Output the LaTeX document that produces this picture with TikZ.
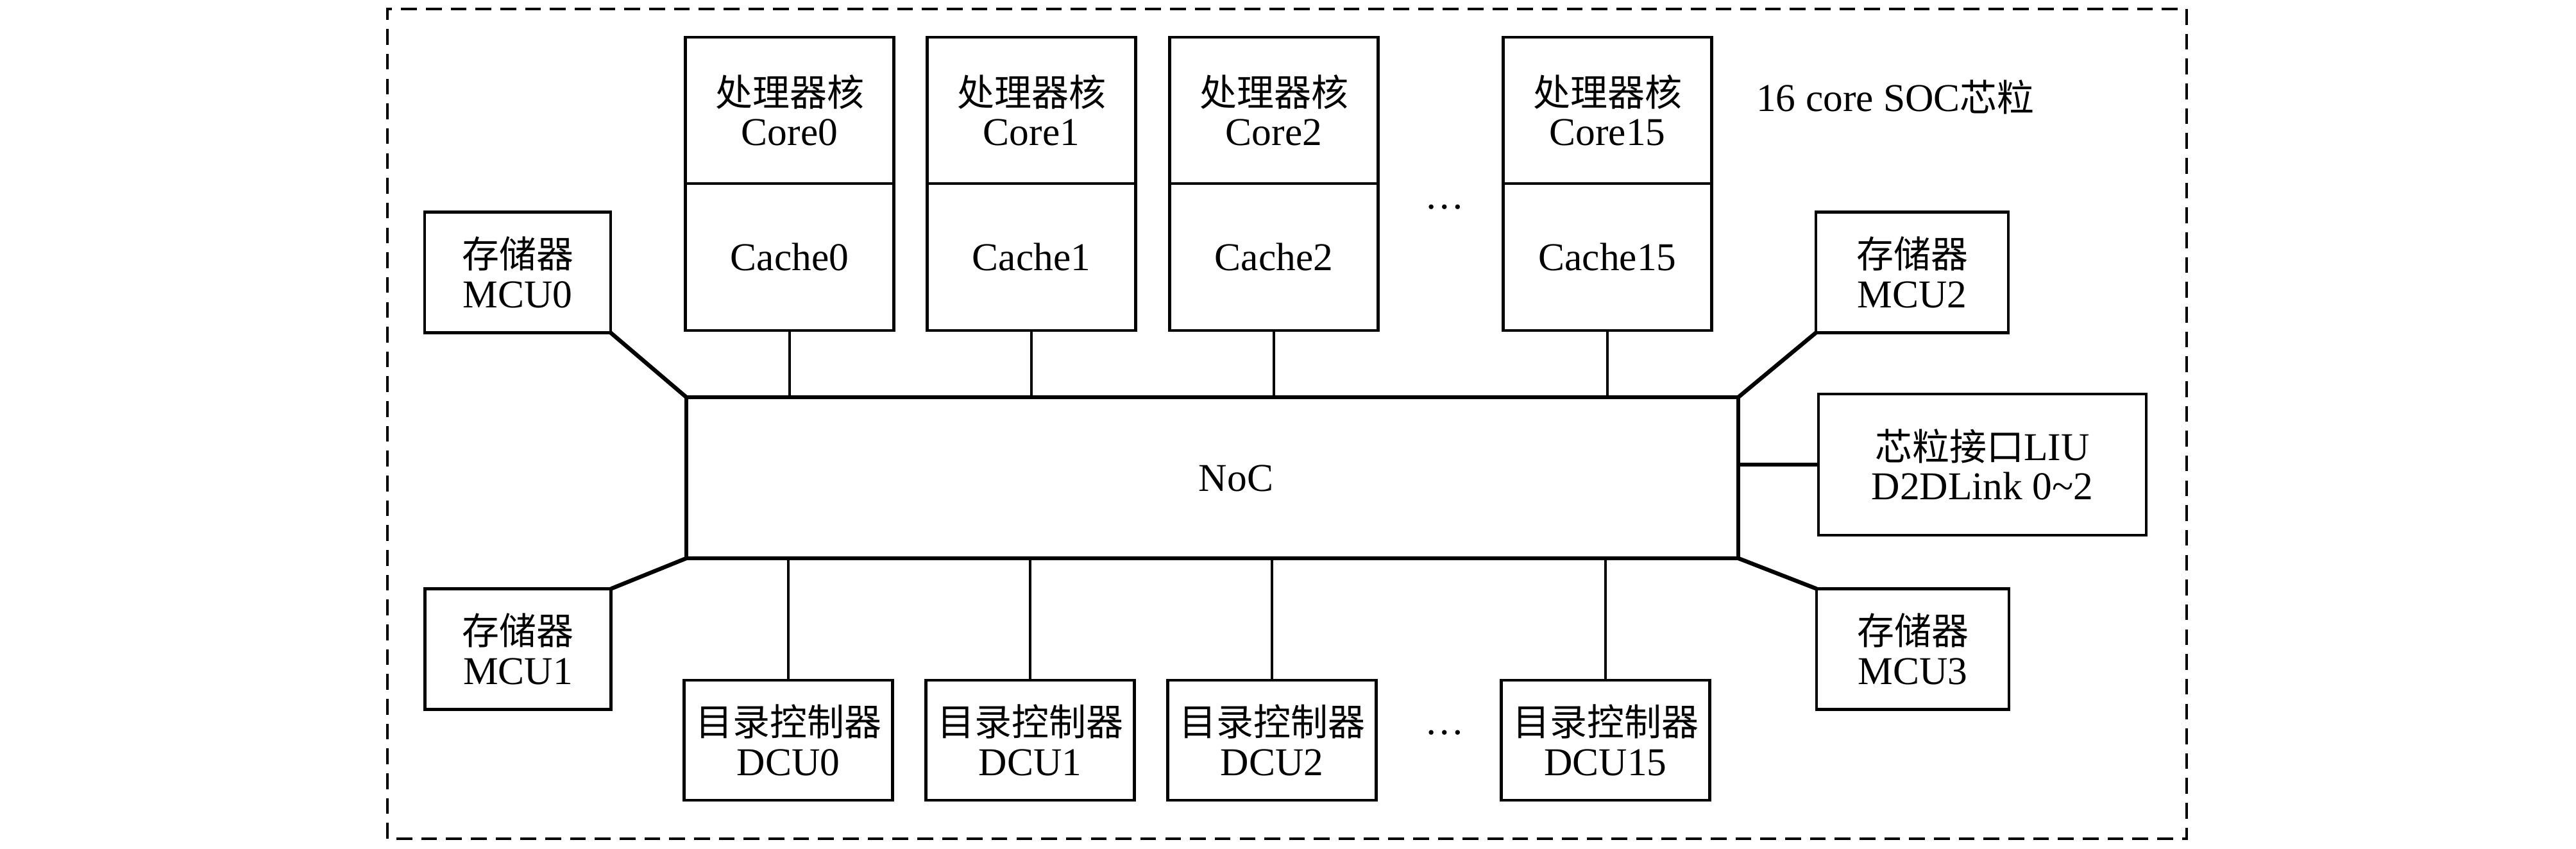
\documentclass[tikz,border=0pt]{standalone}
\usepackage{fontspec}
\setmainfont[Scale=1.06]{Liberation Serif}
\newfontfamily\cjk{Noto Sans CJK SC}
\newcommand{\zh}[1]{{\cjk #1}}
\usetikzlibrary{positioning}

\begin{document}
\begin{tikzpicture}[
    font=\fontsize{16.5}{17.5}\selectfont,
    box/.style={draw, line width=1.3pt, align=center, inner sep=0pt, outer sep=0pt, minimum width=3.25cm},
    mcu/.style={box, minimum width=2.9cm, minimum height=1.88cm},
    link/.style={line width=1.2pt},
    slant/.style={line width=1.8pt},
    chip/.style={line width=1.1pt, dash pattern=on 7pt off 4pt}
]
    \useasboundingbox (0,0) rectangle (40.16,13.23);

    % Cadre du SOC
    \draw[chip] (6.04,0.16) rectangle (34.09,13.09);
    \node[anchor=west] (title) at (27.25,11.72) {16 core SOC\zh{芯粒}};

    % Coeurs + caches
    \node[box, minimum height=2.28cm] (core0) at (12.31,11.51) {\zh{处理器核}\\Core0};
    \node[box, minimum height=2.29cm, below=0pt of core0] (cache0) {Cache0};
    \node[box, minimum height=2.28cm] (core1) at (16.08,11.51) {\zh{处理器核}\\Core1};
    \node[box, minimum height=2.29cm, below=0pt of core1] (cache1) {Cache1};
    \node[box, minimum height=2.28cm] (core2) at (19.86,11.51) {\zh{处理器核}\\Core2};
    \node[box, minimum height=2.29cm, below=0pt of core2] (cache2) {Cache2};
    \node[box, minimum height=2.28cm] (core15) at (25.06,11.51) {\zh{处理器核}\\Core15};
    \node[box, minimum height=2.29cm, below=0pt of core15] (cache15) {Cache15};
    \node (dotsup) at (22.52,10.0) {\dots};

    % NoC
    \node[box, line width=1.8pt, minimum width=16.4cm, minimum height=2.51cm] (noc) at (18.90,5.785) {};
    \node (noclabel) at (19.27,5.78) {NoC};

    % Memoires
    \node[mcu] (mcu0) at (8.07,8.985) {\zh{存储器}\\MCU0};
    \node[mcu] (mcu1) at (8.075,3.115) {\zh{存储器}\\MCU1};
    \node[mcu, minimum width=3.0cm] (mcu2) at (29.81,8.985) {\zh{存储器}\\MCU2};
    \node[mcu, minimum width=3.0cm] (mcu3) at (29.82,3.115) {\zh{存储器}\\MCU3};

    % Interface chiplet
    \node[box, minimum width=5.11cm, minimum height=2.2cm] (liu) at (30.905,5.99) {\zh{芯粒接口}LIU\\D2DLink 0\textasciitilde 2};

    % Controleurs de repertoire
    \node[box, minimum height=1.87cm] (dcu0) at (12.29,1.695) {\zh{目录控制器}\\DCU0};
    \node[box, minimum height=1.87cm] (dcu1) at (16.06,1.695) {\zh{目录控制器}\\DCU1};
    \node[box, minimum height=1.87cm] (dcu2) at (19.83,1.695) {\zh{目录控制器}\\DCU2};
    \node[box, minimum height=1.87cm] (dcu15) at (25.03,1.695) {\zh{目录控制器}\\DCU15};
    \node (dotsdown) at (22.52,1.81) {\dots};

    % Liaisons verticales
    \draw[link] (cache0.south) -- (cache0.south |- noc.north);
    \draw[link] (cache1.south) -- (cache1.south |- noc.north);
    \draw[link] (cache2.south) -- (cache2.south |- noc.north);
    \draw[link] (cache15.south) -- (cache15.south |- noc.north);
    \draw[link] (dcu0.north) -- (dcu0.north |- noc.south);
    \draw[link] (dcu1.north) -- (dcu1.north |- noc.south);
    \draw[link] (dcu2.north) -- (dcu2.north |- noc.south);
    \draw[link] (dcu15.north) -- (dcu15.north |- noc.south);

    % Liaisons obliques vers les MCU
    \draw[slant] (mcu0.south east) -- (noc.north west);
    \draw[slant] (mcu2.south west) -- (noc.north east);
    \draw[slant] (mcu1.north east) -- (noc.south west);
    \draw[slant] (mcu3.north west) -- (noc.south east);
    \draw[slant] (noc.east |- liu.west) -- (liu.west);
\end{tikzpicture}
\end{document}
